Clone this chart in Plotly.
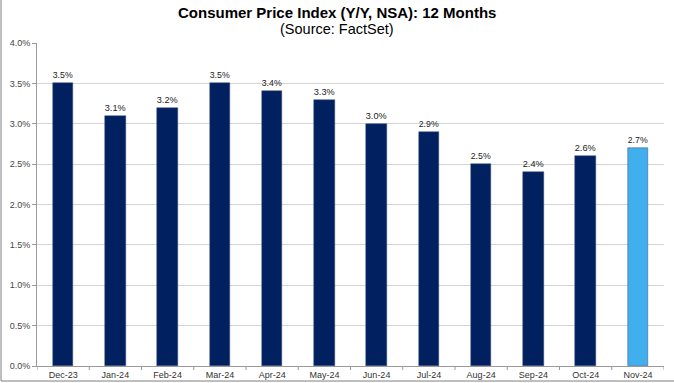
import plotly.graph_objects as go

categories = ["Dec-23", "Jan-24", "Feb-24", "Mar-24", "Apr-24", "May-24", "Jun-24",
              "Jul-24", "Aug-24", "Sep-24", "Oct-24", "Nov-24"]
values = [3.5, 3.1, 3.2, 3.5, 3.4, 3.3, 3.0, 2.9, 2.5, 2.4, 2.6, 2.7]
labels = [f"{v:.1f}%" for v in values]
colors = ["#002060"] * 11 + ["#41AFEE"]
y_ticks = [0, 0.5, 1.0, 1.5, 2.0, 2.5, 3.0, 3.5, 4.0]
y_tick_labels = [f"{t:.1f}%" for t in y_ticks]

W, H = 674, 383
L, R, T, B = 37, 10, 43, 17
PW, PH = W - L - R, H - T - B
FONT = "Liberation Sans, Arial"
TX = (W / 2 - L) / PW

fig = go.Figure()
fig.add_trace(go.Bar(
    x=list(range(len(categories))), y=values, text=labels, textposition="outside",
    textfont=dict(family=FONT, size=10, color="#222222"),
    marker=dict(color=colors, line=dict(color="#3a4f7a", width=0.5)),
    width=0.39, cliponaxis=False, hoverinfo="skip",
))

fig.update_layout(
    width=W, height=H,
    margin=dict(l=L, r=R, t=T, b=B, autoexpand=False),
    paper_bgcolor="white", plot_bgcolor="white",
    showlegend=False,
    font=dict(family=FONT, color="#333333"),
    bargap=0,
    annotations=[
        dict(text="<b>Consumer Price Index (Y/Y, NSA): 12 Months</b>", xref="paper", yref="paper",
             x=TX, y=1 + (T - 12) / PH, xanchor="center", yanchor="middle", showarrow=False,
             font=dict(family=FONT, size=15, color="#000000")),
        dict(text="(Source: FactSet)", xref="paper", yref="paper",
             x=TX, y=1 + (T - 29) / PH, xanchor="center", yanchor="middle", showarrow=False,
             font=dict(family=FONT, size=14.5, color="#000000")),
    ],
)
fig.update_xaxes(
    tickmode="array", tickvals=list(range(len(categories))), ticktext=categories,
    range=[-0.5, 11.5], showgrid=False, showline=True, linecolor="#9a9a9a", linewidth=1,
    ticks="", tickfont=dict(size=9, color="#333333"), zeroline=False, automargin=False,
)
fig.update_yaxes(
    range=[0, 4.0], tickmode="array", tickvals=y_ticks, ticktext=y_tick_labels,
    showgrid=True, gridcolor="#d4d4d4", gridwidth=1,
    showline=True, linecolor="#9a9a9a", linewidth=1,
    ticks="outside", ticklen=4, tickcolor="#9a9a9a",
    tickfont=dict(size=9, color="#444444"), zeroline=False, automargin=False,
)
for i in range(len(categories) + 1):
    fig.add_shape(type="line", xref="x", yref="paper", x0=i - 0.5, x1=i - 0.5,
                  y0=0, y1=-4 / PH, line=dict(color="#9a9a9a", width=1))
fig.add_shape(type="line", xref="paper", yref="paper", x0=-(L - 1) / PW, x1=-(L - 1) / PW,
              y0=-(B - 2) / PH, y1=1 + T / PH, line=dict(color="#7f7f7f", width=1))
fig.add_shape(type="line", xref="paper", yref="paper", x0=-(L - 1) / PW, x1=1 + R / PW,
              y0=-(B - 2) / PH, y1=-(B - 2) / PH, line=dict(color="#7f7f7f", width=1))

fig.write_html("out.html", config={"displayModeBar": False},
               post_script="document.body.style.margin='0';document.body.style.overflow='hidden';")
